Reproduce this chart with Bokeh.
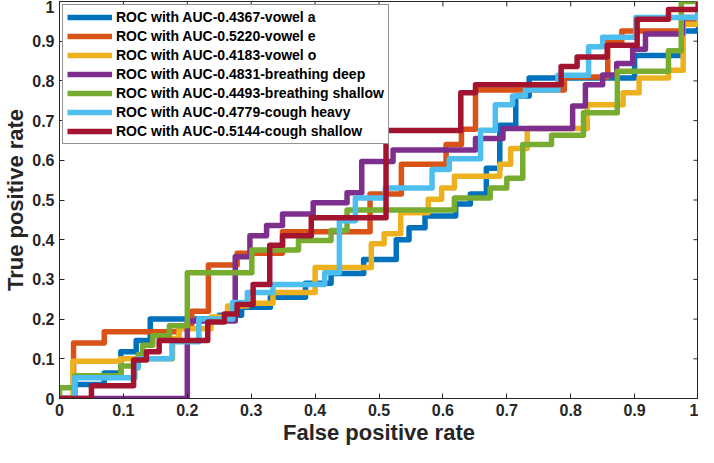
import math
from bokeh.plotting import figure
from bokeh.models import Range1d, FixedTicker
from bokeh.embed import file_html
from bokeh.resources import INLINE

# ---- data ----
tick_values = [0, 0.1, 0.2, 0.3, 0.4, 0.5, 0.6, 0.7, 0.8, 0.9, 1]
tick_labels = ["0", "0.1", "0.2", "0.3", "0.4", "0.5", "0.6", "0.7", "0.8", "0.9", "1"]

names = ["vowel a", "vowel e", "vowel o", "breathing deep", "breathing shallow",
         "cough heavy", "cough shallow"]
auc = ["0.4367", "0.5220", "0.4183", "0.4831", "0.4493", "0.4779", "0.5144"]
colors = ["#0072BD", "#D95319", "#EDB120", "#7E2F8E", "#77AC30", "#4DBEEE", "#A2142F"]

vowel_a_fpr = [0, 0.024, 0.07, 0.096, 0.12, 0.142, 0.25, 0.285, 0.33, 0.385, 0.425, 0.476,
               0.527, 0.547, 0.572, 0.62, 0.643, 0.668, 0.689, 0.714, 0.735, 0.9, 0.975, 1.0]
vowel_a_tpr = [0, 0.035, 0.064, 0.118, 0.146, 0.2, 0.21, 0.23, 0.255, 0.29, 0.315, 0.35,
               0.40, 0.43, 0.46, 0.49, 0.515, 0.58, 0.688, 0.762, 0.807, 0.864, 0.926, 1.0]

vowel_e_fpr = [0, 0.022, 0.07, 0.187, 0.207, 0.233, 0.278, 0.349, 0.486, 0.535, 0.605,
               0.629, 0.651, 0.79, 0.858, 0.88, 0.975, 1.0]
vowel_e_tpr = [0, 0.14, 0.168, 0.18, 0.22, 0.336, 0.366, 0.42, 0.515, 0.59, 0.64,
               0.678, 0.777, 0.81, 0.9, 0.926, 0.95, 1.0]

vowel_o_fpr = [0, 0.021, 0.095, 0.177, 0.187, 0.237, 0.263, 0.294, 0.334, 0.4, 0.488, 0.508,
               0.534, 0.577, 0.598, 0.618, 0.689, 0.706, 0.732, 0.826, 0.882, 0.907, 0.953,
               0.976, 1.0]
vowel_o_tpr = [0, 0.094, 0.1, 0.151, 0.176, 0.205, 0.233, 0.24, 0.267, 0.33, 0.39, 0.415,
               0.468, 0.502, 0.53, 0.56, 0.59, 0.63, 0.68, 0.74, 0.77, 0.807, 0.827,
               0.943, 1.0]

breath_deep_fpr = [0, 0.2, 0.275, 0.298, 0.324, 0.349, 0.397, 0.45, 0.473, 0.522, 0.651,
                   0.694, 0.803, 0.823, 0.85, 0.872, 0.897, 0.917, 0.975, 1.0]
breath_deep_tpr = [0, 0.195, 0.357, 0.41, 0.436, 0.465, 0.493, 0.518, 0.597, 0.626, 0.655,
                   0.68, 0.737, 0.79, 0.815, 0.844, 0.88, 0.918, 0.96, 1.0]

breath_shallow_fpr = [0, 0, 0.024, 0.096, 0.123, 0.13, 0.146, 0.172, 0.2, 0.301, 0.374,
                      0.425, 0.45, 0.618, 0.674, 0.70, 0.725, 0.77, 0.82, 0.873, 0.953,
                      0.973, 1.0]
breath_shallow_tpr = [0, 0.027, 0.057, 0.082, 0.11, 0.134, 0.158, 0.183, 0.317, 0.374, 0.398,
                      0.423, 0.475, 0.505, 0.53, 0.555, 0.64, 0.663, 0.72, 0.824, 0.876,
                      1.0, 1.0]

cough_heavy_fpr = [0, 0.024, 0.118, 0.123, 0.176, 0.218, 0.271, 0.294, 0.334, 0.415, 0.438,
                   0.463, 0.51, 0.583, 0.61, 0.659, 0.682, 0.709, 0.729, 0.78, 0.828, 0.85,
                   0.902, 1.0]
cough_heavy_tpr = [0, 0.052, 0.077, 0.1, 0.143, 0.2, 0.242, 0.267, 0.287, 0.317, 0.448,
                   0.505, 0.53, 0.577, 0.604, 0.676, 0.74, 0.762, 0.777, 0.814, 0.886, 0.91,
                   0.96, 1.0]

cough_shallow_fpr = [0, 0.05, 0.116, 0.136, 0.156, 0.232, 0.258, 0.278, 0.303, 0.329, 0.349,
                     0.394, 0.511, 0.628, 0.651, 0.785, 0.81, 0.857, 0.904, 0.953, 1.0]
cough_shallow_tpr = [0, 0.032, 0.097, 0.118, 0.146, 0.193, 0.213, 0.237, 0.287, 0.386, 0.41,
                     0.455, 0.675, 0.77, 0.79, 0.836, 0.86, 0.89, 0.955, 0.98, 1.0]

series_fpr = [vowel_a_fpr, vowel_e_fpr, vowel_o_fpr, breath_deep_fpr, breath_shallow_fpr,
              cough_heavy_fpr, cough_shallow_fpr]
series_tpr = [vowel_a_tpr, vowel_e_tpr, vowel_o_tpr, breath_deep_tpr, breath_shallow_tpr,
              cough_heavy_tpr, cough_shallow_tpr]

# ---- figure ----
FONT = "Liberation Sans"
DARK = "#262626"
X_MIN, X_MAX = 0, 1
Y_MIN, Y_MAX = 0, 1

p = figure(width=698, height=447, output_backend="svg", toolbar_location=None,
           x_range=Range1d(X_MIN, X_MAX), y_range=Range1d(Y_MIN, Y_MAX),
           min_border_left=0, min_border_right=0, min_border_top=1, min_border_bottom=0)
p.grid.visible = False
p.outline_line_color = DARK
p.outline_line_width = 1
p.background_fill_color = "white"
p.border_fill_color = "white"

overrides = dict(zip(tick_values, tick_labels))

for ax in (p.xaxis[0], p.yaxis[0]):
    ax.ticker = FixedTicker(ticks=tick_values)
    ax.major_tick_in = 5
    ax.major_tick_out = 0
    ax.minor_tick_line_color = None
    ax.axis_line_color = DARK
    ax.major_tick_line_color = DARK
    ax.major_label_overrides = overrides
    ax.major_label_text_font = FONT
    ax.major_label_text_font_style = "bold"
    ax.major_label_text_font_size = "16px"
    ax.major_label_text_color = DARK
    ax.major_label_standoff = 5
    ax.axis_label_text_font = FONT
    ax.axis_label_text_font_style = "bold"
    ax.axis_label_text_font_size = "22px"
    ax.axis_label_text_color = DARK
    ax.axis_label_standoff = 1

p.xaxis[0].axis_label = "False positive rate"
p.yaxis[0].axis_label = "True positive rate"

# inward ticks on the top and right edges of the box (half of each dash is clipped)
p.scatter(x=[X_MAX] * len(tick_values), y=tick_values, marker="dash", size=10,
          line_color=DARK, line_width=1)
p.scatter(x=tick_values, y=[Y_MAX] * len(tick_values), marker="dash", size=10,
          angle=math.pi / 2, line_color=DARK, line_width=1)

for fx, ty, col, nm, a in zip(series_fpr, series_tpr, colors, names, auc):
    p.step(fx, ty, mode="after", line_color=col, line_width=5.5, line_join="round",
           legend_label=f"ROC with AUC-{a}-{nm}")

lg = p.legend[0]
lg.location = "top_left"
lg.margin = 3
lg.padding = 4
lg.spacing = 3
lg.label_height = 16
lg.glyph_height = 16
lg.glyph_width = 45
lg.label_standoff = 4
lg.label_text_font = FONT
lg.label_text_font_style = "bold"
lg.label_text_font_size = "14px"
lg.label_text_color = "black"
lg.border_line_color = DARK
lg.border_line_width = 1
lg.background_fill_alpha = 1.0

open("out.html", "w").write(file_html(p, INLINE))
